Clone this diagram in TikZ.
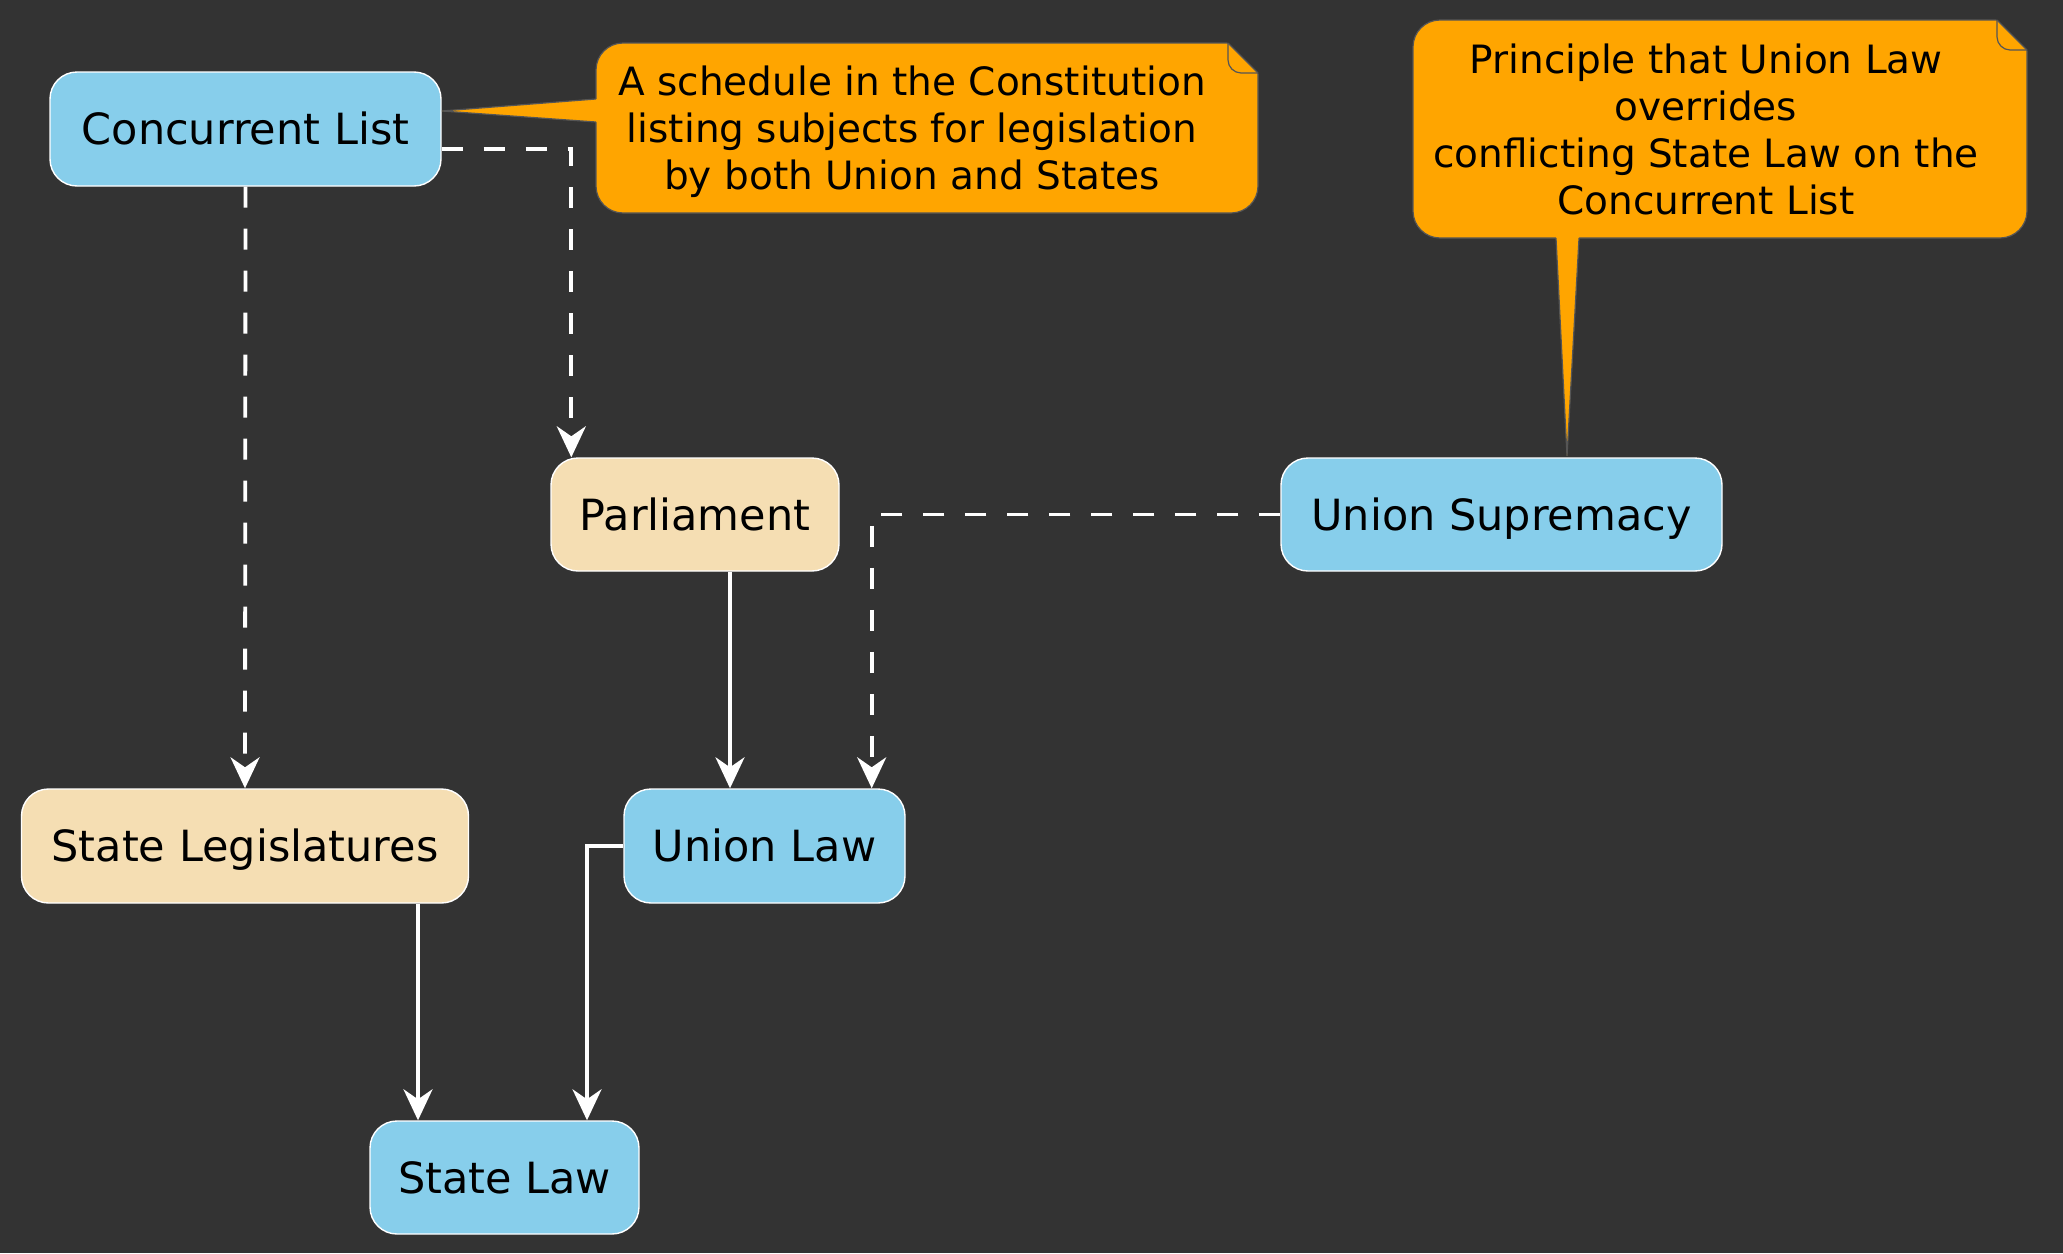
\documentclass[tikz,border=0pt]{standalone}
\usepackage{fontspec}
\setmainfont{DejaVu Sans}
\usetikzlibrary{arrows.meta}
\definecolor{bg}{HTML}{333333}
\definecolor{skyb}{HTML}{87CEEB}
\definecolor{wheatc}{HTML}{F5DEB3}
\definecolor{notec}{HTML}{FFA500}
\definecolor{notebd}{HTML}{555555}
\begin{document}
\begin{tikzpicture}[x=1pt,y=-1pt,
  box/.style={rectangle, rounded corners=27pt, draw=white, line width=1.4pt, inner sep=0pt,
    font=\fontsize{43}{50}\selectfont, text=black, text height=31pt, text depth=0pt},
  bluebox/.style={box, fill=skyb},
  tanbox/.style={box, fill=wheatc},
  notebox/.style={rectangle, rounded corners=27pt, fill=notec, draw=notebd, line width=1.2pt, inner sep=0pt},
  notetext/.style={font=\fontsize{39}{47}\selectfont, align=center, text=black, inner sep=0pt},
  conn/.style={draw=white, line width=3.8pt, -{Stealth[length=31pt,width=29pt,inset=10pt]}},
  dconn/.style={conn, dash pattern=on 21pt off 21pt},
  pointer/.style={draw=notebd, line width=1.2pt},
]
\fill[bg] (0,0) rectangle (2063,1253);
\useasboundingbox (0,0) rectangle (2063,1253);

% nodes
\node[bluebox, minimum width=391pt, minimum height=114pt] (cl) at (245.5,129) {Concurrent List};
\node[tanbox, minimum width=288pt, minimum height=113pt] (parl) at (695,514.5) {Parliament};
\node[bluebox, minimum width=441pt, minimum height=113pt] (us) at (1501.5,514.5) {Union Supremacy};
\node[tanbox, minimum width=447pt, minimum height=114pt] (stl) at (245,846) {State Legislatures};
\node[bluebox, minimum width=281pt, minimum height=114pt] (ul) at (764.5,846) {Union Law};
\node[bluebox, minimum width=269pt, minimum height=113pt] (sl) at (504.5,1177.5) {State Law};

% note 1
\node[notebox, minimum width=662pt, minimum height=170pt] (n1) at (927,128) {};
\fill[notec] (601,99) -- (596,99) -- (442,111) -- (596,122) -- (601,122) -- cycle;
\draw[pointer] (596,99) -- (442,111) -- (596,122);
\fill[bg] (1227,42) -- (1261,42) -- (1261,76) -- cycle;
\draw[pointer] (1228,43) -- (1258,73);
\draw[pointer] (1228,43) -- (1228,60) .. controls (1228,67) and (1234,73) .. (1241,73) -- (1258,73);
\node[notetext] (n1t) at (912,132) {A schedule in the Constitution\\listing subjects for legislation\\by both Union and States};

% note 2
\node[notebox, minimum width=614pt, minimum height=218pt] (n2) at (1720,129) {};
\fill[notec] (1556,233) -- (1556,238) -- (1567,456) -- (1579,238) -- (1579,233) -- cycle;
\draw[pointer] (1556,238) -- (1567,456) -- (1579,238);
\fill[bg] (1996,19) -- (2030,19) -- (2030,53) -- cycle;
\draw[pointer] (1997,20) -- (2027,50);
\draw[pointer] (1997,20) -- (1997,37) .. controls (1997,44) and (2003,50) .. (2010,50) -- (2027,50);
\node[notetext] (n2t) at (1706,129) {Principle that Union Law\\overrides\\conflicting State Law on the\\Concurrent List};

% connectors
\draw[dconn] (cl.south) -- (stl.north);
\draw[dconn] ([yshift=-20pt]cl.east) -| ([xshift=21pt]parl.north west);
\draw[conn] ([xshift=35pt]parl.south) -- ([xshift=35pt]parl.south |- ul.north);
\draw[dconn] (us.west) -| ([xshift=-34pt]ul.north east);
\draw[conn] (ul.west) -| ([xshift=82.5pt]sl.north);
\draw[conn] ([xshift=173pt]stl.south) -- ([xshift=173pt]stl.south |- sl.north);
\end{tikzpicture}
\end{document}
